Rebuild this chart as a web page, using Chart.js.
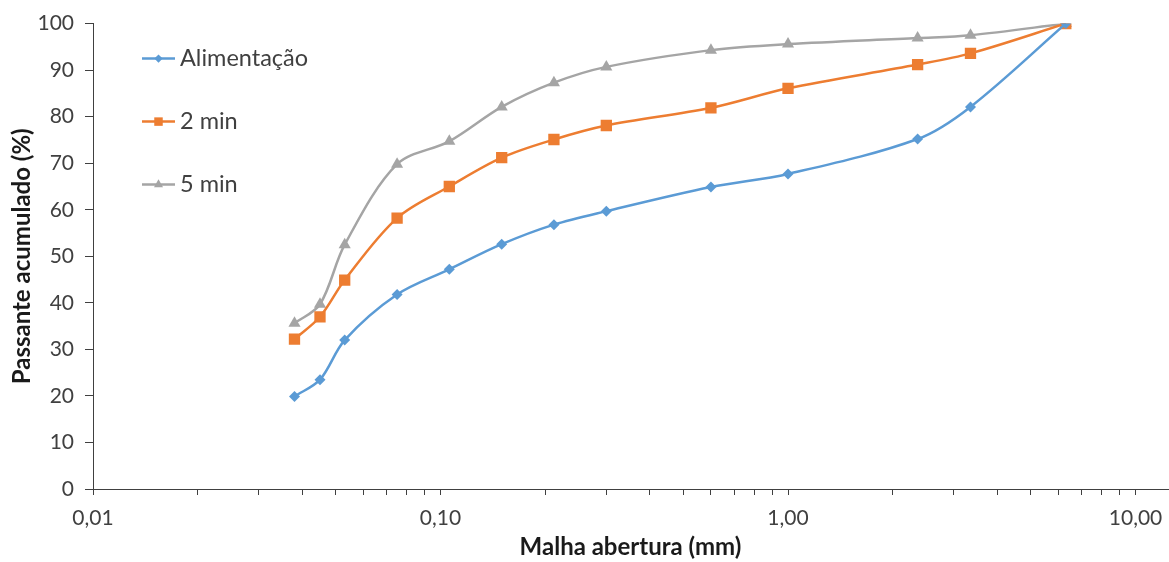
<!DOCTYPE html>
<html lang="pt">
<head>
<meta charset="utf-8">
<title>Passante acumulado</title>
<script src="https://cdn.jsdelivr.net/npm/chart.js@4/dist/chart.umd.min.js"></script>
<style>
  html, body { margin: 0; padding: 0; background: #fff; }
  #wrap { width: 1169px; height: 562px; }
</style>
</head>
<body>
<div id="wrap"><canvas id="grafico" width="1169" height="562"></canvas></div>
<script>
// Abertura das malhas (mm)
const aberturas = [0.038, 0.045, 0.053, 0.075, 0.106, 0.150, 0.212, 0.300, 0.600, 1.00, 2.36, 3.35, 6.30];

// Passante acumulado (%)
const alimentacao = [19.9, 23.5, 32.0, 41.8, 47.2, 52.6, 56.8, 59.7, 64.9, 67.7, 75.2, 82.1, 100];
const min2 = [32.2, 37.0, 44.9, 58.2, 65.0, 71.2, 75.1, 78.1, 81.9, 86.1, 91.2, 93.6, 100];
const min5 = [35.6, 39.7, 52.5, 69.8, 74.7, 82.1, 87.3, 90.7, 94.3, 95.6, 96.9, 97.5, 100];

const nomesSeries = ['Alimentação', '2 min', '5 min'];

// Eixo x: decadas rotuladas
const marcasX = [0.01, 0.1, 1, 10];
const rotulosX = ['0,01', '0,10', '1,00', '10,00'];

const FONTE = 'Lato, "Open Sans", sans-serif';

const pontos = vals => aberturas.map((x, i) => ({ x, y: vals[i] }));

function serie(label, vals, cor, estilo, raio) {
  return {
    label,
    data: pontos(vals),
    borderColor: cor,
    backgroundColor: cor,
    pointBackgroundColor: cor,
    pointBorderColor: cor,
    pointStyle: estilo,
    pointRadius: raio,
    pointBorderWidth: 0,
    borderWidth: 2.5,
    tension: 0.33,
    fill: false
  };
}

// legenda desenhada dentro da area do grafico, como no original
const legendaInterna = {
  id: 'legendaInterna',
  afterDraw(chart) {
    const { ctx, chartArea } = chart;
    chart.data.datasets.forEach((ds, i) => {
      const y = chartArea.top + 35 + i * 63;
      const x0 = chartArea.left + 49;
      ctx.save();
      ctx.strokeStyle = ds.borderColor;
      ctx.lineWidth = 2.5;
      ctx.beginPath();
      ctx.moveTo(x0, y);
      ctx.lineTo(x0 + 33, y);
      ctx.stroke();
      ctx.fillStyle = ds.pointBackgroundColor;
      Chart.helpers.drawPoint(ctx, { pointStyle: ds.pointStyle, radius: ds.pointRadius * 0.75, borderWidth: 0 }, x0 + 16.5, y);
      ctx.fillStyle = '#404040';
      ctx.font = '23.5px ' + FONTE;
      ctx.textBaseline = 'middle';
      ctx.textAlign = 'left';
      ctx.fillText(ds.label, x0 + 38, y);
      ctx.restore();
    });
  }
};

const ctx = document.getElementById('grafico').getContext('2d');

new Chart(ctx, {
  type: 'line',
  data: {
    datasets: [
      serie(nomesSeries[0], alimentacao, '#5B9BD5', 'rectRot', 5.5),
      serie(nomesSeries[1], min2, '#ED7D31', 'rect', 8),
      serie(nomesSeries[2], min5, '#A5A5A5', 'triangle', 7)
    ]
  },
  options: {
    responsive: false,
    animation: false,
    layout: { autoPadding: false, padding: { top: 21, right: 1, bottom: 0, left: 0 } },
    plugins: {
      legend: { display: false },
      tooltip: { enabled: false }
    },
    scales: {
      x: {
        type: 'logarithmic',
        min: 0.01,
        max: 12.4,
        afterBuildTicks: scale => {
          // ticks menores em cada 1..9 x 10^n, sem o valor maximo
          const lista = [];
          for (let e = -2; e <= 1; e++) {
            for (let m = 1; m <= 9; m++) {
              const v = m * Math.pow(10, e);
              if (v <= 10.0001) lista.push({ value: v });
            }
          }
          scale.ticks = lista;
        },
        afterFit: scale => {
          scale.height = 73;
          scale.paddingLeft = 0;
          scale.paddingRight = 0;
        },
        border: { display: true, color: '#404040', width: 1 },
        grid: { drawOnChartArea: false, drawTicks: true, tickLength: 6, tickColor: '#404040' },
        ticks: {
          autoSkip: false,
          maxRotation: 0,
          padding: 11,
          color: '#404040',
          font: { family: FONTE, size: 21 },
          callback: value => {
            const k = marcasX.findIndex(m => Math.abs(m - value) < m * 1e-6);
            return k >= 0 ? rotulosX[k] : '';
          }
        },
        title: {
          display: true,
          text: 'Malha abertura (mm)',
          color: '#1a1a1a',
          font: { family: FONTE, size: 24, weight: 'bold' },
          padding: { top: 0, bottom: 0 }
        }
      },
      y: {
        min: 0,
        max: 100,
        afterFit: scale => { scale.width = 93; },
        border: { display: true, color: '#404040', width: 1 },
        grid: { drawOnChartArea: false, drawTicks: true, tickLength: 8, tickColor: '#404040' },
        ticks: {
          stepSize: 10,
          padding: 11,
          color: '#404040',
          font: { family: FONTE, size: 21 }
        },
        title: {
          display: true,
          text: 'Passante acumulado (%)',
          color: '#1a1a1a',
          font: { family: FONTE, size: 24, weight: 'bold' },
          padding: { top: 8, bottom: 0 }
        }
      }
    }
  },
  plugins: [legendaInterna]
});
</script>
</body>
</html>
